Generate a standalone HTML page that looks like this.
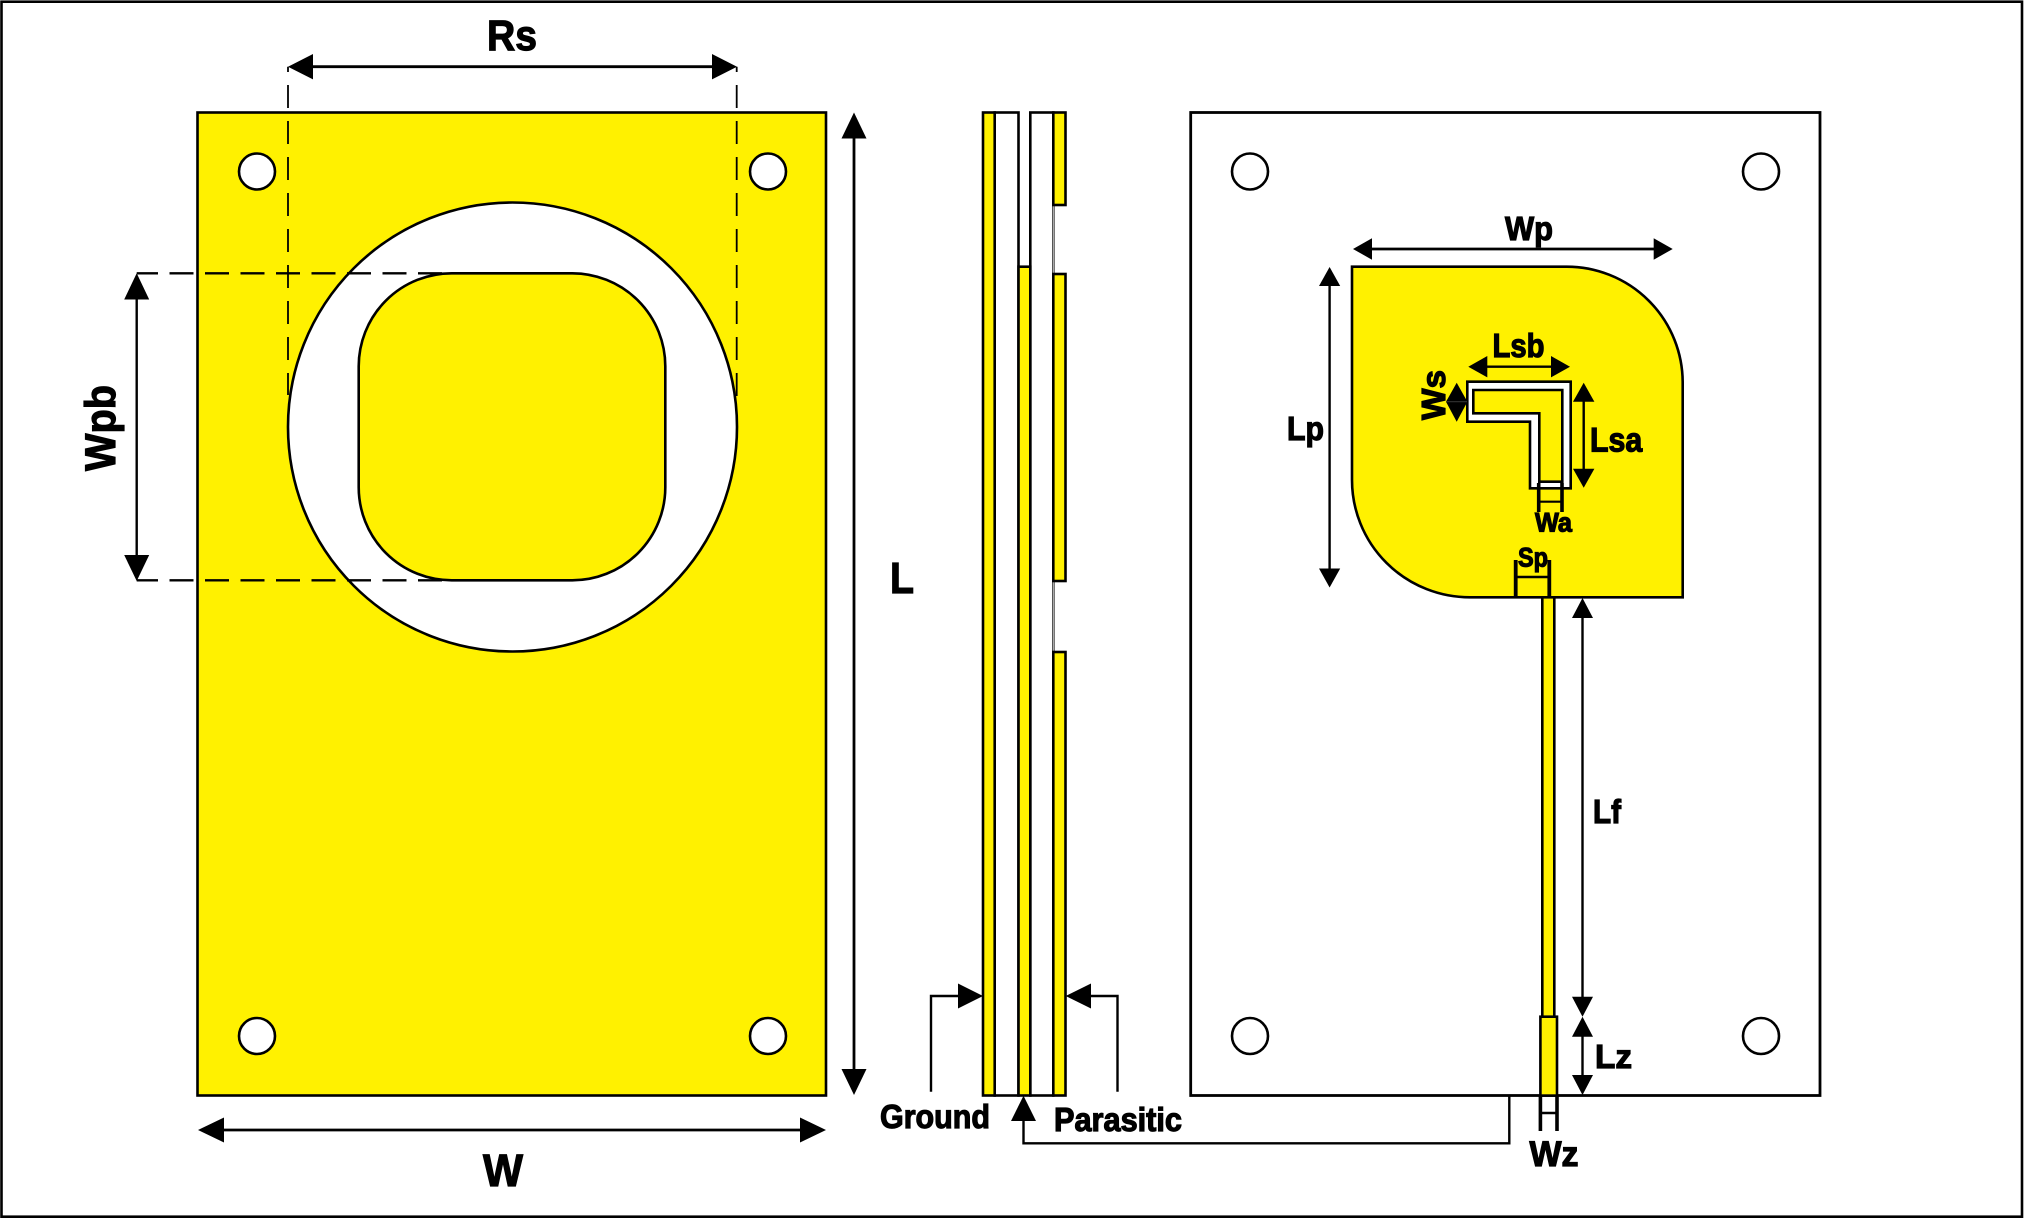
<!DOCTYPE html>
<html lang="en">
<head>
<meta charset="utf-8">
<title>Antenna geometry diagram</title>
<style>
html,body{margin:0;padding:0;background:#fff;}
svg{display:block;}
text{font-family:"Liberation Sans",Arial,sans-serif;font-weight:bold;fill:#000;stroke:#000;stroke-width:1.2;}
.o{fill:none;stroke:#000;stroke-width:2.8;}
.t{fill:none;stroke:#000;stroke-width:2.4;}
.d{fill:none;stroke:#000;stroke-width:1.8;stroke-dasharray:23 13;stroke-dashoffset:17.7;}
.dh{fill:none;stroke:#000;stroke-width:2.4;stroke-dasharray:24 11.5;stroke-dashoffset:2.7;}
.y{fill:#fff100;stroke:#000;stroke-width:2.6;}
.w{fill:#fff;stroke:#000;stroke-width:2.6;}
polygon.h{fill:#000;stroke:none;}
</style>
</head>
<body>
<svg xmlns="http://www.w3.org/2000/svg" width="2024" height="1219" viewBox="0 0 2024 1219">
  <rect x="0" y="0" width="2024" height="1219" fill="#fff"/>
  <rect x="1.5" y="1.7" width="2020.5" height="1215" fill="none" stroke="#000" stroke-width="2.6"/>

  <g>
    <rect class="y" x="197.5" y="112.5" width="628.5" height="983"/>
    <circle class="w" cx="512.5" cy="427" r="224.5"/>
    <rect class="y" x="358.7" y="273.3" width="306.6" height="307" rx="93" ry="93"/>
    <circle class="w" cx="257" cy="171.5" r="18"/>
    <circle class="w" cx="768" cy="171.5" r="18"/>
    <circle class="w" cx="257" cy="1036" r="18"/>
    <circle class="w" cx="768" cy="1036" r="18"/>
    <line class="d" x1="288" y1="66.7" x2="288" y2="395"/>
    <line class="d" x1="736.7" y1="66.7" x2="736.7" y2="397"/>
    <line class="dh" x1="136.7" y1="273.3" x2="449" y2="273.3"/>
    <line class="dh" x1="136.7" y1="580.3" x2="449" y2="580.3"/>
    <g>
      <line class="o" x1="300" y1="66.7" x2="725" y2="66.7"/>
      <polygon class="h" points="288,66.7 313,54 313,79.4"/>
      <polygon class="h" points="737,66.7 712,54 712,79.4"/>
      <text x="487" y="50" font-size="43" textLength="50" lengthAdjust="spacingAndGlyphs">Rs</text>
    </g>
    <g>
      <line class="t" x1="136.7" y1="285" x2="136.7" y2="570"/>
      <polygon class="h" points="136.7,273.3 124.2,299.5 149.2,299.5"/>
      <polygon class="h" points="136.7,581 124.2,555 149.2,555"/>
      <text transform="translate(115 471) rotate(-90)" font-size="43" textLength="86" lengthAdjust="spacingAndGlyphs">Wpb</text>
    </g>
    <g>
      <line class="o" x1="854" y1="125" x2="854" y2="1083"/>
      <polygon class="h" points="854,112.5 841.5,138.5 866.5,138.5"/>
      <polygon class="h" points="854,1095 841.5,1069 866.5,1069"/>
      <text x="890" y="593" font-size="44" textLength="24" lengthAdjust="spacingAndGlyphs">L</text>
    </g>
    <g>
      <line class="o" x1="210" y1="1130" x2="815" y2="1130"/>
      <polygon class="h" points="198,1130 224,1117.5 224,1142.5"/>
      <polygon class="h" points="826,1130 800,1117.5 800,1142.5"/>
      <text x="483" y="1186" font-size="45" textLength="40" lengthAdjust="spacingAndGlyphs">W</text>
    </g>
  </g>

  <g>
    <rect class="w" x="994.7" y="112.5" width="23.8" height="983" stroke-width="2"/>
    <rect class="w" x="1030.3" y="112.5" width="23" height="983" stroke-width="2"/>
    <rect class="y" x="983" y="112.5" width="11.7" height="983" stroke-width="1.8"/>
    <rect class="y" x="1018.5" y="266.7" width="11.8" height="828.8" stroke-width="1.8"/>
    <line x1="1053.3" y1="205" x2="1053.3" y2="274" stroke="#aaa" stroke-width="1.6"/>
    <line x1="1053.3" y1="581" x2="1053.3" y2="652" stroke="#aaa" stroke-width="1.6"/>
    <rect class="y" x="1053.3" y="112.5" width="12.2" height="92.5" stroke-width="1.8"/>
    <rect class="y" x="1053.3" y="274" width="12.2" height="307" stroke-width="1.8"/>
    <rect class="y" x="1053.3" y="652" width="12.2" height="443.5" stroke-width="1.8"/>
    <g>
      <polyline class="t" points="931,1091.7 931,996 960,996"/>
      <polygon class="h" points="983,996 958,983.5 958,1008.5"/>
      <text x="880" y="1128" font-size="33.5" textLength="110" lengthAdjust="spacingAndGlyphs">Ground</text>
    </g>
    <g>
      <polyline class="t" points="1117.5,1091.7 1117.5,996 1090,996"/>
      <polygon class="h" points="1065.7,996 1091,983.5 1091,1008.5"/>
      <text x="1054" y="1131" font-size="33.5" textLength="128" lengthAdjust="spacingAndGlyphs">Parasitic</text>
    </g>
    <g>
      <polyline class="t" points="1509.3,1095 1509.3,1143.3 1023.5,1143.3 1023.5,1118"/>
      <polygon class="h" points="1023.5,1095.7 1011,1121 1036,1121"/>
    </g>
  </g>

  <g>
    <rect x="1190.7" y="112.5" width="629.3" height="983" fill="#fff" stroke="#000" stroke-width="2.8"/>
    <circle class="w" cx="1250" cy="171.5" r="18"/>
    <circle class="w" cx="1761" cy="171.5" r="18"/>
    <circle class="w" cx="1250" cy="1036" r="18"/>
    <circle class="w" cx="1761" cy="1036" r="18"/>
    <path class="y" d="M1352 266.7 H1566.7 A116 116 0 0 1 1682.7 382.7 V597.3 H1470 A118 117.3 0 0 1 1352 480 Z"/>
    <polygon class="w" points="1467.3,381.7 1570.7,381.7 1570.7,488.3 1530,488.3 1530,421.7 1467.3,421.7"/>
    <polygon class="y" points="1473.3,390 1562.3,390 1562.3,481.7 1539.3,481.7 1539.3,413.3 1473.3,413.3"/>
    <rect class="y" x="1542.3" y="597.3" width="12" height="420"/>
    <rect class="y" x="1540.4" y="1016.7" width="16.6" height="78.9" stroke-width="3.4"/>

    <g>
      <line class="o" x1="1365" y1="249" x2="1660" y2="249"/>
      <polygon class="h" points="1353,249 1372,238.3 1372,259.7"/>
      <polygon class="h" points="1672.7,249 1653.7,238.3 1653.7,259.7"/>
      <text x="1505" y="240" font-size="33.5" textLength="48" lengthAdjust="spacingAndGlyphs">Wp</text>
    </g>
    <g>
      <line class="t" x1="1329.6" y1="278" x2="1329.6" y2="576"/>
      <polygon class="h" points="1329.6,267 1319,286 1340.2,286"/>
      <polygon class="h" points="1329.6,587.5 1319,568.5 1340.2,568.5"/>
      <text x="1287" y="440" font-size="33.5" textLength="37" lengthAdjust="spacingAndGlyphs">Lp</text>
    </g>
    <g>
      <line class="t" x1="1480" y1="366.7" x2="1558" y2="366.7"/>
      <polygon class="h" points="1468.3,366.7 1487.3,356 1487.3,377.4"/>
      <polygon class="h" points="1570,366.7 1551,356 1551,377.4"/>
      <text x="1492.5" y="357" font-size="33.5" textLength="52" lengthAdjust="spacingAndGlyphs">Lsb</text>
    </g>
    <g>
      <polygon class="h" points="1456.7,382.7 1446,401.7 1467.4,401.7"/>
      <polygon class="h" points="1456.7,421.7 1446,401.7 1467.4,401.7"/>
      <line x1="1447" y1="401.7" x2="1467" y2="401.7" stroke="#333" stroke-width="1.2"/>
      <text transform="translate(1445 420) rotate(-90)" font-size="33.5" textLength="50" lengthAdjust="spacingAndGlyphs">Ws</text>
    </g>
    <g>
      <line class="t" x1="1583.7" y1="395" x2="1583.7" y2="476"/>
      <polygon class="h" points="1583.7,382.7 1573,401.7 1594.4,401.7"/>
      <polygon class="h" points="1583.7,487.7 1573,468.7 1594.4,468.7"/>
      <text x="1590" y="451.7" font-size="34" textLength="52.3" lengthAdjust="spacingAndGlyphs">Lsa</text>
    </g>
    <g>
      <line x1="1538.7" y1="483" x2="1538.7" y2="512" stroke="#000" stroke-width="3.6"/>
      <line x1="1562" y1="483" x2="1562" y2="512" stroke="#000" stroke-width="3.6"/>
      <line x1="1538.7" y1="501.7" x2="1562" y2="501.7" stroke="#000" stroke-width="2.2"/>
      <text x="1535" y="531.7" font-size="27" textLength="37" lengthAdjust="spacingAndGlyphs">Wa</text>
    </g>
    <g>
      <line x1="1515.7" y1="560" x2="1515.7" y2="597" stroke="#000" stroke-width="3.8"/>
      <line x1="1549.3" y1="560" x2="1549.3" y2="597" stroke="#000" stroke-width="3.8"/>
      <line x1="1515.7" y1="577" x2="1549.3" y2="577" stroke="#000" stroke-width="2.4"/>
      <text x="1518" y="566.7" font-size="27" textLength="30" lengthAdjust="spacingAndGlyphs">Sp</text>
    </g>
    <g>
      <line class="t" x1="1582.5" y1="610" x2="1582.5" y2="1005"/>
      <polygon class="h" points="1582.5,598 1572,618 1593,618"/>
      <polygon class="h" points="1582.5,1016.7 1572,996.7 1593,996.7"/>
      <text x="1593" y="823" font-size="33.5" textLength="28" lengthAdjust="spacingAndGlyphs">Lf</text>
    </g>
    <g>
      <line class="t" x1="1582.5" y1="1028" x2="1582.5" y2="1084"/>
      <polygon class="h" points="1582.5,1016.7 1572,1036.7 1593,1036.7"/>
      <polygon class="h" points="1582.5,1095 1572,1075 1593,1075"/>
      <text x="1595" y="1068" font-size="33.5" textLength="37" lengthAdjust="spacingAndGlyphs">Lz</text>
    </g>
    <g>
      <line x1="1540.4" y1="1095" x2="1540.4" y2="1131" stroke="#000" stroke-width="3.6"/>
      <line x1="1557" y1="1095" x2="1557" y2="1131" stroke="#000" stroke-width="3.6"/>
      <line x1="1540.4" y1="1113" x2="1557" y2="1113" stroke="#000" stroke-width="2.4"/>
      <text x="1529.5" y="1166" font-size="35" textLength="49" lengthAdjust="spacingAndGlyphs">Wz</text>
    </g>
  </g>
</svg>
</body>
</html>
